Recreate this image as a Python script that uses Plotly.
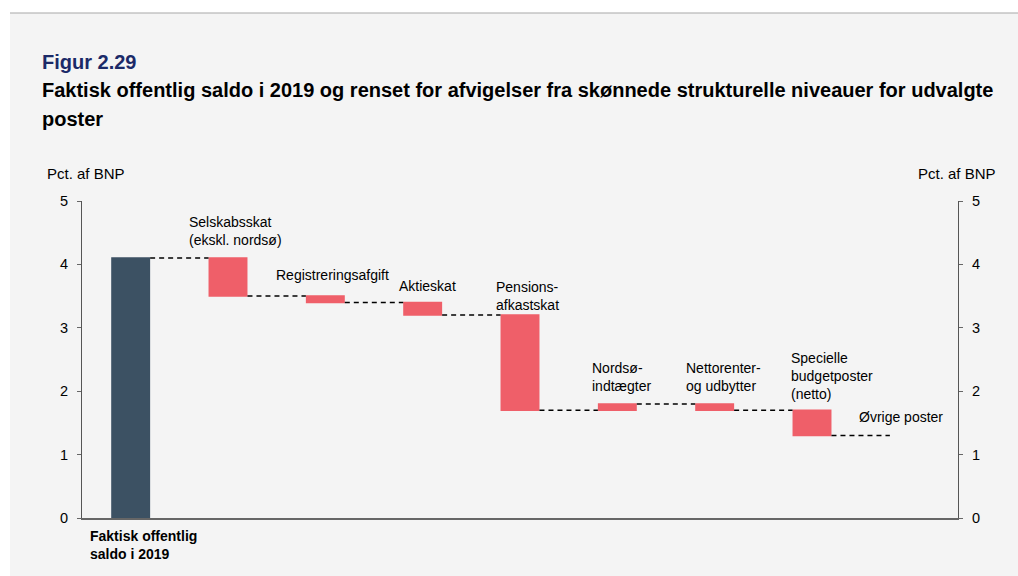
import plotly.graph_objects as go

# ---- data ----
categories = ["Faktisk offentlig saldo i 2019", "Selskabsskat", "Registreringsafgift", "Aktieskat",
              "Pensionsafkastskat", "Nordsøindtægter", "Nettorenter og udbytter",
              "Specielle budgetposter (netto)", "Øvrige poster"]
values = [4.1, -0.6, -0.1, -0.2, -1.5, 0.1, -0.1, -0.4, 0.0]
measures = ["absolute"] + ["relative"] * 8
bar_labels = ["<b>Faktisk offentlig<br>saldo i 2019</b>", "Selskabsskat<br>(ekskl. nordsø)", "Registreringsafgift",
              "Aktieskat", "Pensions-<br>afkastskat", "Nordsø-<br>indtægter", "Nettorenter-<br>og udbytter",
              "Specielle<br>budgetposter<br>(netto)", "Øvrige poster"]
y_ticks = [0, 1, 2, 3, 4, 5]

W, H = 1018, 576
L, R, T, B = 82, 958, 201, 518   # plot area in pixels

def px2x(px):
    return (px - L) / (R - L)

def px2y(py):
    return (B - py) / (B - T)

FONT = "Liberation Sans, Arial, sans-serif"
DARK = "#3c5163"
RED = "#ef5f69"
BG = "#f4f4f4"

idx = list(range(len(categories)))

fig = go.Figure()
fig.add_trace(go.Waterfall(
    x=idx, y=values, measure=measures,
    increasing=dict(marker=dict(color=RED, line=dict(width=0))),
    decreasing=dict(marker=dict(color=RED, line=dict(width=0))),
    totals=dict(marker=dict(color=DARK, line=dict(width=0))),
    connector=dict(mode="between", line=dict(color="#000000", width=1.5, dash="5px,4px")),
    textposition="none", showlegend=False, hoverinfo="skip",
))
# invisible trace for the right axis
fig.add_trace(go.Scatter(x=[0], y=[0], yaxis="y2", mode="markers",
                         marker=dict(opacity=0), showlegend=False, hoverinfo="skip"))

# label placement (offset from bar index in category units, vertical centre in data units)
label_dx = [-0.44, -0.42, -0.53, -0.26, -0.27, -0.28, -0.31, -0.24, -0.54]
label_y = [None, 4.53, 3.83, 3.66, 3.50, 2.23, 2.23, 2.245, 1.59]
LBL = 14

annotations = []
for i, (lab, dx, ly) in enumerate(zip(bar_labels, label_dx, label_y)):
    if ly is None:
        annotations.append(dict(x=i + dx, xref="x", y=px2y(545), yref="paper", text=lab,
                                showarrow=False, xanchor="left", yanchor="middle", align="left",
                                font=dict(family=FONT, size=LBL, color="#000000")))
    else:
        annotations.append(dict(x=i + dx, xref="x", y=ly, yref="y", text=lab,
                                showarrow=False, xanchor="left", yanchor="middle", align="left",
                                font=dict(family=FONT, size=LBL, color="#000000")))

annotations += [
    dict(x=px2x(40), y=px2y(62), xref="paper", yref="paper", text="<b>Figur 2.29</b>",
         showarrow=False, xanchor="left", yanchor="middle",
         font=dict(family=FONT, size=20, color="#1b2a68")),
    dict(x=px2x(40), y=px2y(90), xref="paper", yref="paper",
         text="<b>Faktisk offentlig saldo i 2019 og renset for afvigelser fra skønnede strukturelle niveauer for udvalgte</b>",
         showarrow=False, xanchor="left", yanchor="middle",
         font=dict(family=FONT, size=20, color="#000000")),
    dict(x=px2x(40), y=px2y(119), xref="paper", yref="paper", text="<b>poster</b>",
         showarrow=False, xanchor="left", yanchor="middle",
         font=dict(family=FONT, size=20, color="#000000")),
    dict(x=px2x(45), y=px2y(173), xref="paper", yref="paper", text="Pct. af BNP",
         showarrow=False, xanchor="left", yanchor="middle",
         font=dict(family=FONT, size=15, color="#000000")),
    dict(x=px2x(998), y=px2y(173), xref="paper", yref="paper", text="Pct. af BNP",
         showarrow=False, xanchor="right", yanchor="middle",
         font=dict(family=FONT, size=15, color="#000000")),
]

shapes = [
    dict(type="rect", xref="paper", yref="paper", x0=px2x(0), x1=px2x(W), y0=px2y(13), y1=px2y(0),
         fillcolor="#ffffff", line=dict(width=0), layer="below"),
    dict(type="rect", xref="paper", yref="paper", x0=px2x(0), x1=px2x(10), y0=px2y(H), y1=px2y(0),
         fillcolor="#ffffff", line=dict(width=0), layer="below"),
    dict(type="line", xref="paper", yref="paper", x0=px2x(10), x1=px2x(W), y0=px2y(13), y1=px2y(13),
         line=dict(color="#a8a8a8", width=1.2)),
]

axis_common = dict(range=[0, 5], tickvals=y_ticks, ticks="outside", ticklen=4, tickwidth=1,
                   tickcolor="#666666", showline=True, linecolor="#555555", linewidth=1,
                   showgrid=False, zeroline=False, ticklabelstandoff=6,
                   tickfont=dict(family=FONT, size=14.5, color="#000000"))

fig.update_layout(
    width=W, height=H,
    margin=dict(l=L, r=W - R, t=T, b=H - B, pad=0),
    paper_bgcolor=BG, plot_bgcolor=BG,
    waterfallgap=0.6,
    xaxis=dict(range=[-0.5, 8.5], showticklabels=False, ticks="", showgrid=False,
               zeroline=False, showline=True, linecolor="#666666", linewidth=1.5),
    yaxis=dict(side="left", **axis_common),
    yaxis2=dict(side="right", overlaying="y", **axis_common),
    annotations=annotations,
    shapes=shapes,
    font=dict(family=FONT),
)

fig.write_html("out.html", config={"displayModeBar": False},
               post_script="document.body.style.margin='0';document.body.style.overflow='hidden';")
